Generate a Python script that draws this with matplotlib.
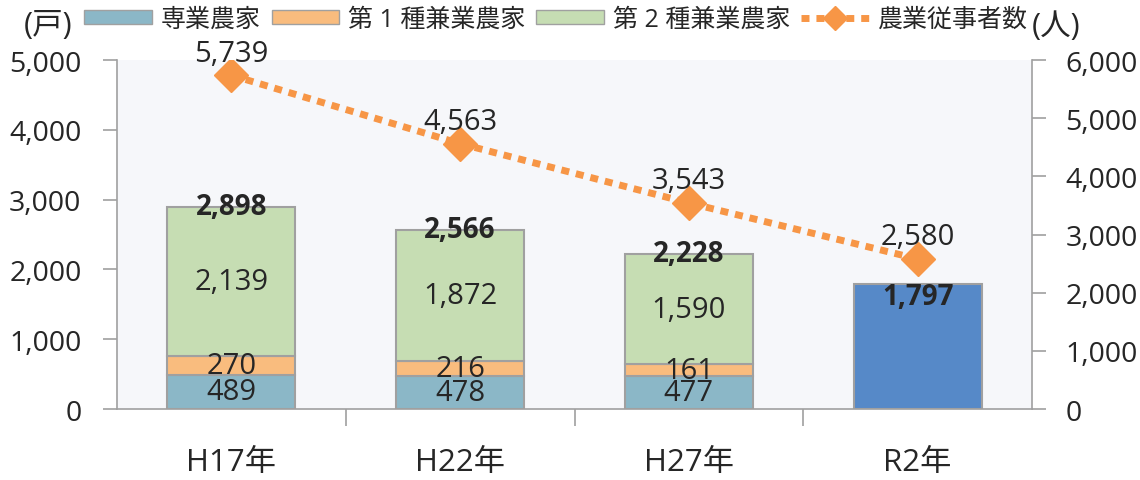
import matplotlib
matplotlib.use('Agg')
import matplotlib.pyplot as plt
from matplotlib.patches import Patch
from matplotlib.lines import Line2D

plt.rcParams['font.family'] = ['Open Sans', 'Noto Sans CJK JP', 'DejaVu Sans']

# データ
years = ['H17年', 'H22年', 'H27年', 'R2年']
sengyo = [489, 478, 477]        # 専業農家
kengyo1 = [270, 216, 161]       # 第1種兼業農家
kengyo2 = [2139, 1872, 1590]    # 第2種兼業農家
totals = [2898, 2566, 2228, 1797]
workers = [5739, 4563, 3543, 2580]  # 農業従事者数

c_sen = '#8BB7C7'
c_k1 = '#F9BC7E'
c_k2 = '#C6DDB3'
c_r2 = '#5689C8'
c_line = '#F79646'
c_edge = '#A0A0A0'
c_text = '#262626'
dots = (0, (1.15, 1.0))

fig = plt.figure(figsize=(11.4, 4.81), dpi=100)
ax = fig.add_axes([0.1026, 0.1476, 0.8027, 0.7254])
ax.set_facecolor('#F6F7FA')

x = list(range(len(years)))
w = 0.56
n = len(sengyo)
ax.bar(x[:n], sengyo, w, color=c_sen, edgecolor=c_edge, linewidth=1.5)
bot2 = sengyo
ax.bar(x[:n], kengyo1, w, bottom=bot2, color=c_k1, edgecolor=c_edge, linewidth=1.5)
bot3 = [a + b for a, b in zip(sengyo, kengyo1)]
ax.bar(x[:n], kengyo2, w, bottom=bot3, color=c_k2, edgecolor=c_edge, linewidth=1.5)
ax.bar(x[n:], totals[n:], w, color=c_r2, edgecolor=c_edge, linewidth=1.5)

fs_num = 21
for i in range(n):
    ax.text(x[i], sengyo[i] / 2, f'{sengyo[i]:,}', ha='center', va='center',
            fontsize=fs_num, color=c_text)
    ax.text(x[i], bot2[i] + kengyo1[i] / 2, f'{kengyo1[i]:,}', ha='center', va='center',
            fontsize=fs_num, color=c_text)
    ax.text(x[i], bot3[i] + kengyo2[i] / 2, f'{kengyo2[i]:,}', ha='center', va='center',
            fontsize=fs_num, color=c_text)
    ax.text(x[i], totals[i], f'{totals[i]:,}', ha='center', va='center',
            fontsize=20, fontweight='bold', color=c_text)
for i in range(n, len(years)):
    ax.text(x[i], totals[i] - 190, f'{totals[i]:,}', ha='center', va='center',
            fontsize=20, fontweight='bold', color=c_text)

ax.set_xlim(-0.5, len(years) - 0.5)
ax.set_ylim(0, 5000)
ax.set_yticks(range(0, 5001, 1000))
ax.set_yticklabels([f'{v:,}' for v in range(0, 5001, 1000)])
ax.set_xticks(x)
ax.set_xticklabels(years)
ax.set_xticks([i + 0.5 for i in range(len(years) - 1)], minor=True)
ax.tick_params(axis='x', which='major', length=0, labelsize=22.5, colors=c_text, pad=27)
ax.tick_params(axis='x', which='minor', length=12, width=1.2, color=c_edge)
ax.tick_params(axis='y', length=10, width=1.2, color=c_edge, labelsize=20.5,
               labelcolor=c_text, pad=15.5)
for s in ['top', 'right']:
    ax.spines[s].set_visible(False)
for s in ['left', 'bottom']:
    ax.spines[s].set_color(c_edge)
    ax.spines[s].set_linewidth(1.2)

# 農業従事者数 (右軸)
ax2 = ax.twinx()
ax2.set_ylim(0, 6000)
ax2.plot(x, workers, color=c_line, linewidth=5, linestyle=dots,
         dash_capstyle='butt', marker='D', markersize=17, markeredgecolor=c_line)
for i, v in enumerate(workers):
    ax2.annotate(f'{v:,}', (x[i], v), xytext=(0, 16), textcoords='offset points',
                 ha='center', va='center', fontsize=fs_num, color=c_text)
ax2.set_yticks(range(0, 6001, 1000))
ax2.set_yticklabels([f'{v:,}' for v in range(0, 6001, 1000)])
ax2.tick_params(axis='y', length=10, width=1.2, color=c_edge, labelsize=20.5,
                labelcolor=c_text, pad=14)
for s in ['top', 'left', 'bottom']:
    ax2.spines[s].set_visible(False)
ax2.spines['right'].set_color(c_edge)
ax2.spines['right'].set_linewidth(1.2)

# 凡例
handles = [
    Patch(facecolor=c_sen, edgecolor=c_edge, label='専業農家'),
    Patch(facecolor=c_k1, edgecolor=c_edge, label='第 1 種兼業農家'),
    Patch(facecolor=c_k2, edgecolor=c_edge, label='第 2 種兼業農家'),
    Line2D([0], [0], color=c_line, linewidth=5, linestyle=dots,
           marker='D', markersize=12, label='農業従事者数'),
]
fig.legend(handles=handles, loc='center left', bbox_to_anchor=(84 / 1140, 1 - 20 / 481),
           ncol=4, frameon=False, fontsize=18, handlelength=2.7, handleheight=0.5,
           handletextpad=0.35, columnspacing=0.45, borderpad=0, borderaxespad=0,
           labelcolor=c_text)
fig.text(24 / 1140, 1 - 26 / 481, '(戸)', fontsize=22, color=c_text, ha='left', va='center')
fig.text(1032 / 1140, 1 - 27 / 481, '(人)', fontsize=22, color=c_text, ha='left', va='center')

fig.savefig('out.png', dpi=100)
plt.close('all')
